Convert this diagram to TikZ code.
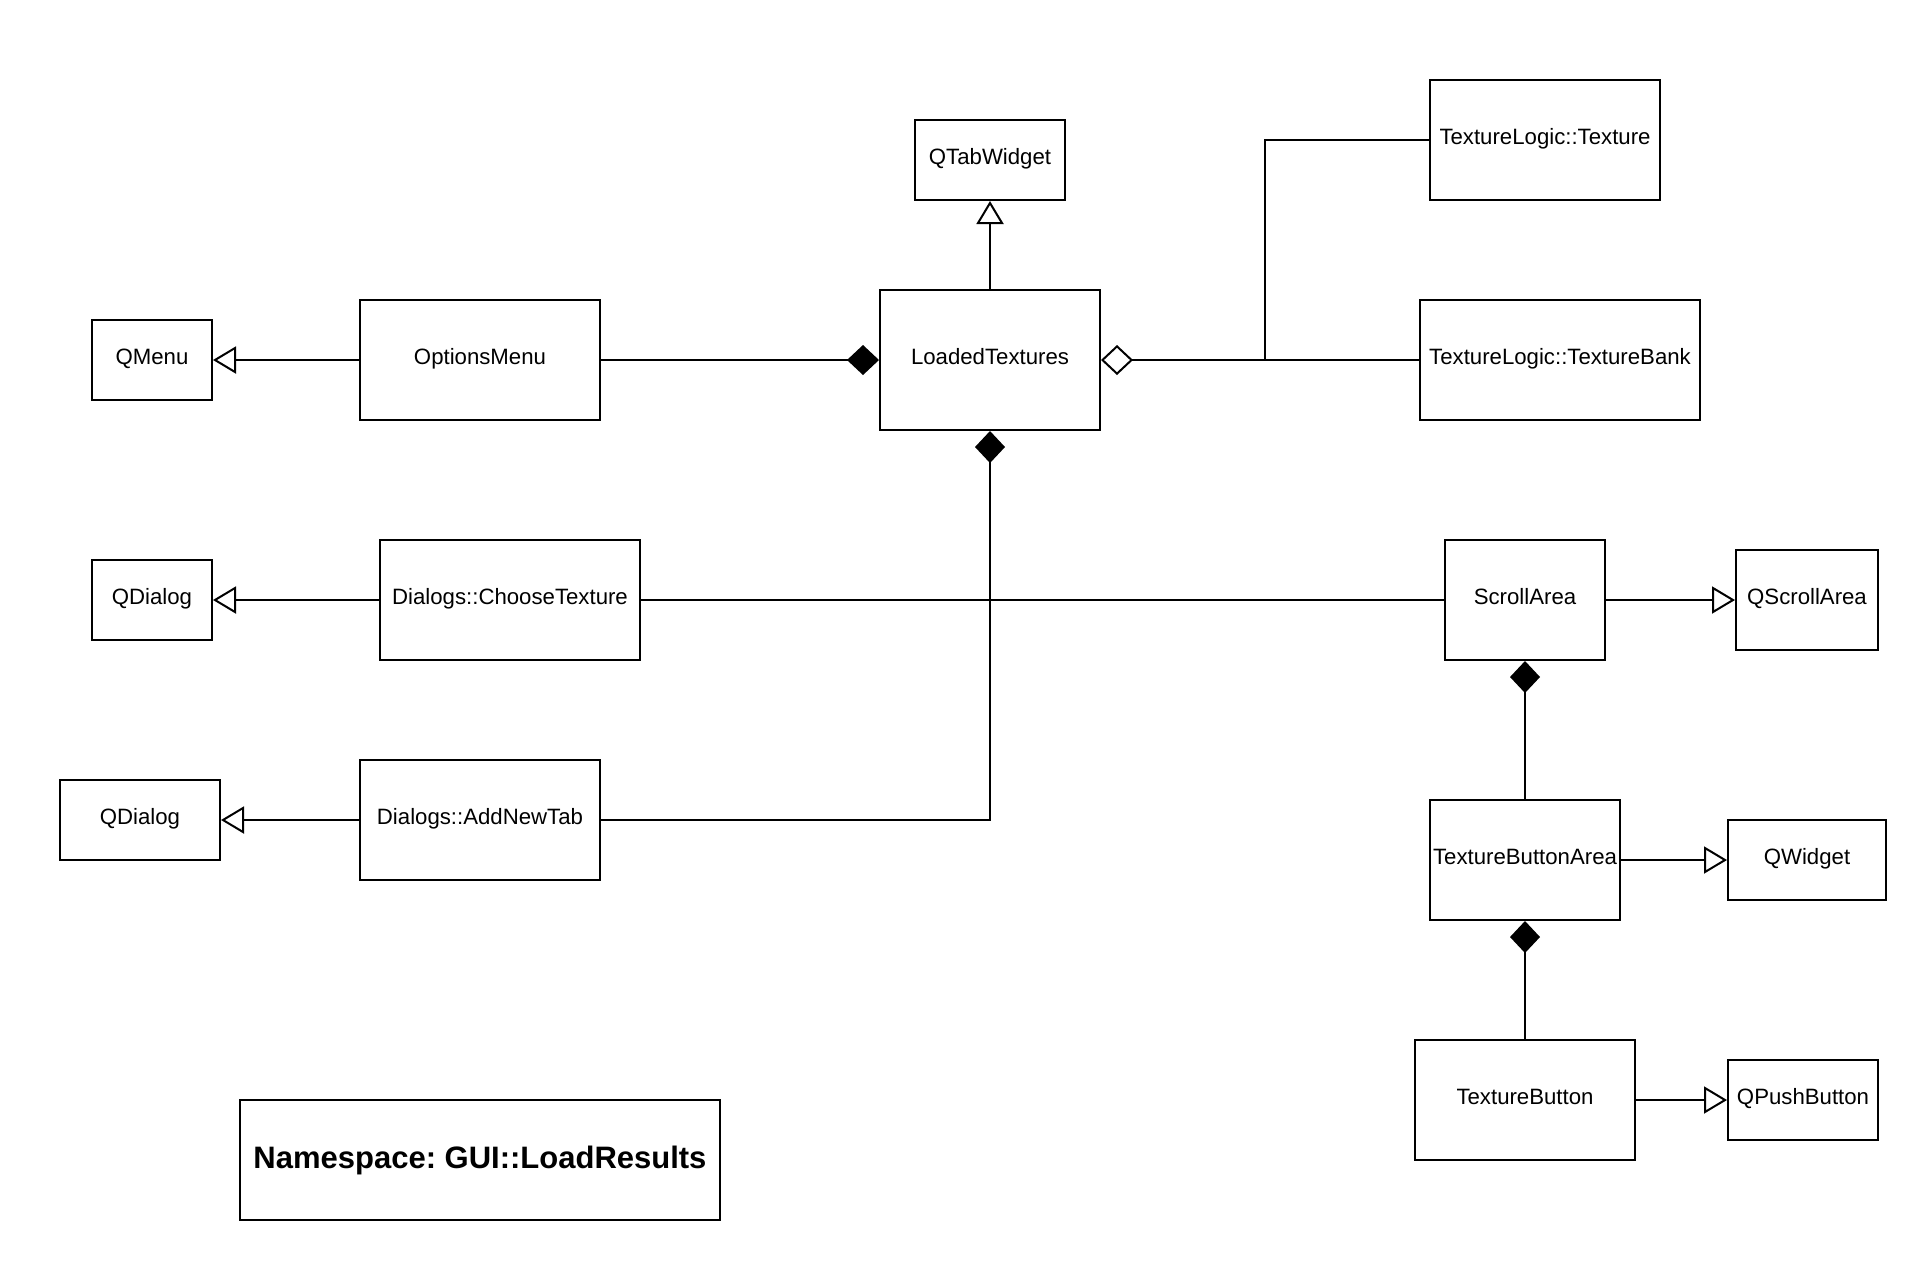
\documentclass[tikz,border=0pt]{standalone}
\usepackage{fontspec}
\setmainfont{Liberation Sans}
\frenchspacing
\usetikzlibrary{arrows.meta}
\begin{document}
\begin{tikzpicture}[x=0.5pt,y=-0.5pt,
  cls/.style={draw, line width=1pt, inner sep=0pt, align=center,
    text height=8pt, text depth=3.1pt,
    font=\fontsize{11.1}{13}\selectfont},
  conn/.style={line width=1pt},
  inh/.style={conn, -{Triangle[open, length=11.5pt, width=13.5pt, fill=white]}},
  comp/.style={conn, {Diamond[length=16pt, width=15pt]}-},
  aggr/.style={conn, {Diamond[open, length=16pt, width=15pt, fill=white]}-}]
  % page
  \fill[white] (0,0) rectangle (1928,1260);
  \useasboundingbox (0,0) rectangle (1928,1260);

  % classes
  \node[cls, minimum width=60pt,  minimum height=40pt] (qmenu) at (152,360) {QMenu};
  \node[cls, minimum width=120pt, minimum height=60pt] (om)    at (480,360) {OptionsMenu};
  \node[cls, minimum width=75pt,  minimum height=40pt] (qtab)  at (990,160) {QTabWidget};
  \node[cls, minimum width=110pt, minimum height=70pt] (lt)    at (990,360) {LoadedTextures};
  \node[cls, minimum width=115pt, minimum height=60pt] (tex)   at (1545,140) {TextureLogic::Texture};
  \node[cls, minimum width=140pt, minimum height=60pt] (tb)    at (1560,360) {TextureLogic::TextureBank};
  \node[cls, minimum width=60pt,  minimum height=40pt] (qd1)   at (152,600) {QDialog};
  \node[cls, minimum width=130pt, minimum height=60pt] (ct)    at (510,600) {Dialogs::ChooseTexture};
  \node[cls, minimum width=80pt,  minimum height=60pt] (sa)    at (1525,600) {ScrollArea};
  \node[cls, minimum width=71pt,  minimum height=50pt] (qsa)   at (1807,600) {QScrollArea};
  \node[cls, minimum width=80pt,  minimum height=40pt] (qd2)   at (140,820) {QDialog};
  \node[cls, minimum width=120pt, minimum height=60pt] (ant)   at (480,820) {Dialogs::AddNewTab};
  \node[cls, minimum width=95pt,  minimum height=60pt] (tba)   at (1525,860) {TextureButtonArea};
  \node[cls, minimum width=79pt,  minimum height=40pt] (qw)    at (1807,860) {QWidget};
  \node[cls, minimum width=110pt, minimum height=60pt] (tbtn)  at (1525,1100) {TextureButton};
  \node[cls, minimum width=75pt,  minimum height=40pt] (qpb)   at (1803,1100) {QPushButton};
  \node[cls, minimum width=240pt, minimum height=60pt, text height=12pt, text depth=3.9pt,
        font=\fontsize{15.5}{18}\selectfont\bfseries] (ns) at (480,1160) {Namespace: GUI::LoadResults};

  % inheritance
  \draw[inh] (om.west)   -- (qmenu.east);
  \draw[inh] (lt.north)  -- (qtab.south);
  \draw[inh] (ct.west)   -- (qd1.east);
  \draw[inh] (ant.west)  -- (qd2.east);
  \draw[inh] (sa.east)   -- (qsa.west);
  \draw[inh] (tba.east)  -- (qw.west);
  \draw[inh] (tbtn.east) -- (qpb.west);

  % composition
  \draw[comp] (lt.west)  -- (om.east);
  \draw[comp] (lt.south) |- (ant.east);
  \draw[comp] (sa.south) -- (tba.north);
  \draw[comp] (tba.south) -- (tbtn.north);

  % aggregation
  \coordinate (split) at (1265,360);
  \draw[aggr] (lt.east) -- (tb.west);
  \draw[conn] (split) |- (tex.west);

  % association
  \draw[conn] (ct.east) -- (sa.west);
\end{tikzpicture}
\end{document}
